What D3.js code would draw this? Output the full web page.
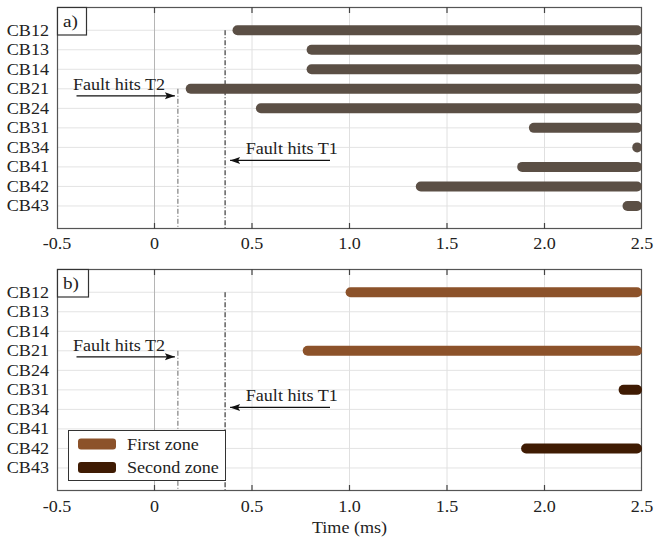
<!DOCTYPE html>
<html>
<head>
<meta charset="utf-8">
<script src="https://cdn.jsdelivr.net/npm/d3@7"></script>
<style>
  body { margin: 0; background: #fff; }
  text { font-family: 'Liberation Serif', 'Times New Roman', Times, serif; }
</style>
</head>
<body>
<div id="chart"></div>
<script>
// breakers on the y axis, top to bottom
const breakers = ['CB12', 'CB13', 'CB14', 'CB21', 'CB24', 'CB31', 'CB34', 'CB41', 'CB42', 'CB43'];
const xTicks = [-0.5, 0, 0.5, 1.0, 1.5, 2.0, 2.5];
const xTickLabels = ['-0.5', '0', '0.5', '1.0', '1.5', '2.0', '2.5'];
const tEnd = 2.5;

// panel a) trip start times (ms)
const tripStartA = [0.40, 0.78, 0.78, 0.16, 0.52, 1.92, 2.45, 1.86, 1.34, 2.40];

// panel b) zone of operation
const firstZone = [{cb: 'CB12', start: 0.98}, {cb: 'CB21', start: 0.76}];
const secondZone = [{cb: 'CB31', start: 2.38}, {cb: 'CB42', start: 1.88}];

// fault instants (ms)
const faultT2 = 0.12;
const faultT1 = 0.362;

const width = 654, height = 544;
const margin = {left: 57, right: 12};
const stretch = 1.13; // text in the original is a bit wider than Times

const svg = d3.select('#chart').append('svg')
  .attr('width', width)
  .attr('height', height);

const x = d3.scaleLinear().domain([-0.5, 2.5]).range([margin.left, width - margin.right]);

const colors = {a: '#5b4f45', first: '#8c522a', second: '#3f1b03'};

const place = (px, py) => `translate(${px},${py}) scale(${stretch},1)`;

function addText(parent, px, py, str, size, anchor) {
  return parent.append('text')
    .attr('transform', place(px, py))
    .attr('text-anchor', anchor || 'start')
    .attr('font-size', size || 16).attr('fill', '#222')
    .text(str);
}

function drawPanel(top, bottom, label, id, labelGap) {
  const y = d3.scaleLinear().domain([-1.19, 10.18]).range([top, bottom]);
  const yPos = cb => y(breakers.indexOf(cb));
  const g = svg.append('g');

  g.append('clipPath').attr('id', 'clip-' + id)
    .append('rect').attr('x', x(-0.5)).attr('y', top).attr('width', x(2.5) - x(-0.5)).attr('height', bottom - top);

  // grid
  g.selectAll('.hgrid').data(breakers).enter().append('line')
    .attr('x1', x(-0.5)).attr('x2', x(2.5))
    .attr('y1', d => yPos(d)).attr('y2', d => yPos(d))
    .attr('stroke', '#e3e3e3').attr('stroke-width', 1);
  g.selectAll('.vgrid').data(xTicks.slice(1, -1)).enter().append('line')
    .attr('x1', d => x(d)).attr('x2', d => x(d))
    .attr('y1', top).attr('y2', bottom)
    .attr('stroke', d => d === 0 ? '#b5b5b5' : '#e0e0e0').attr('stroke-width', 1);

  // fault lines
  g.append('line')
    .attr('x1', x(faultT2)).attr('x2', x(faultT2))
    .attr('y1', yPos('CB21')).attr('y2', bottom)
    .attr('stroke', '#666').attr('stroke-width', 1).attr('stroke-dasharray', '5,2,1,2');
  g.append('line')
    .attr('x1', x(faultT1)).attr('x2', x(faultT1))
    .attr('y1', yPos('CB12')).attr('y2', bottom)
    .attr('stroke', '#111').attr('stroke-width', 1).attr('stroke-dasharray', '5,2,1,2');

  // axis box
  g.append('rect')
    .attr('x', x(-0.5) + 0.5).attr('y', top + 0.5)
    .attr('width', x(2.5) - x(-0.5) - 1).attr('height', bottom - top - 1)
    .attr('fill', 'none').attr('stroke', '#555').attr('stroke-width', 1.2);

  // inward ticks on top and bottom
  g.selectAll('.tickb').data(xTicks.slice(1, -1)).enter().append('line')
    .attr('x1', d => x(d)).attr('x2', d => x(d))
    .attr('y1', bottom).attr('y2', bottom - 6)
    .attr('stroke', '#444').attr('stroke-width', 1.2);
  g.selectAll('.tickt').data(xTicks.slice(1, -1)).enter().append('line')
    .attr('x1', d => x(d)).attr('x2', d => x(d))
    .attr('y1', top).attr('y2', top + 6)
    .attr('stroke', '#444').attr('stroke-width', 1.2);

  // tick labels
  g.selectAll('.xlab').data(xTicks).enter().append('text')
    .attr('transform', d => place(x(d), bottom + labelGap))
    .attr('text-anchor', 'middle')
    .attr('font-size', 16).attr('fill', '#222')
    .text((d, i) => xTickLabels[i]);
  g.selectAll('.ylab').data(breakers).enter().append('text')
    .attr('transform', d => place(x(-0.5) - 8, yPos(d) + 5.5))
    .attr('text-anchor', 'end')
    .attr('font-size', 16).attr('fill', '#222')
    .text(d => d);

  // panel label
  g.append('rect')
    .attr('x', x(-0.5) + 0.5).attr('y', top + 0.5)
    .attr('width', label === 'a)' ? 29 : 31).attr('height', 27.5)
    .attr('fill', '#fff').attr('stroke', '#333').attr('stroke-width', 1.2);
  addText(g, x(-0.5) + 6, top + 20, label, 17);

  return {g, y, yPos};
}

function drawBars(panel, data, color, id) {
  panel.g.append('g').attr('clip-path', `url(#clip-${id})`)
    .selectAll('rect').data(data).enter().append('rect')
    .attr('x', d => x(d.start))
    .attr('y', d => panel.yPos(d.cb) - 5)
    .attr('width', d => x(tEnd) - x(d.start))
    .attr('height', 10)
    .attr('rx', 5)
    .attr('fill', color);
}

function drawArrows(panel, yT2, yT1) {
  const g = panel.g;
  const arrow = (x1, x2, yy) => {
    g.append('line').attr('x1', x1).attr('x2', x2).attr('y1', yy).attr('y2', yy)
      .attr('stroke', '#111').attr('stroke-width', 1.3);
    const dir = x2 > x1 ? 1 : -1;
    g.append('path')
      .attr('d', `M${x2},${yy} L${x2 - dir * 10},${yy - 3.5} L${x2 - dir * 8},${yy} L${x2 - dir * 10},${yy + 3.5} Z`)
      .attr('fill', '#111');
  };
  arrow(x(-0.4), x(faultT2) - 3, yT2);
  addText(g, x(-0.418), yT2 - 6, 'Fault hits T2');
  arrow(x(0.9), x(faultT1) + 5, yT1);
  addText(g, x(0.468), yT1 - 6, 'Fault hits T1');
}

// panel a)
const pa = drawPanel(7, 229, 'a)', 'a', 19.5);
drawBars(pa, breakers.map((cb, i) => ({cb, start: tripStartA[i]})), colors.a, 'a');
drawArrows(pa, pa.yPos('CB21') + 7, pa.yPos('CB34') + 13);

// panel b)
const pb = drawPanel(269, 491, 'b)', 'b', 20.5);
drawBars(pb, firstZone, colors.first, 'b');
drawBars(pb, secondZone, colors.second, 'b');
drawArrows(pb, pb.yPos('CB21') + 6, pb.yPos('CB34') - 2);

// legend
const legend = svg.append('g');
legend.append('rect')
  .attr('x', 68.5).attr('y', 430.5).attr('width', 157).attr('height', 50)
  .attr('fill', '#fff').attr('stroke', '#333').attr('stroke-width', 1);
[{name: 'First zone', color: colors.first}, {name: 'Second zone', color: colors.second}].forEach((d, i) => {
  const yy = 444 + i * 23.5;
  legend.append('rect').attr('x', 78).attr('y', yy - 5.5).attr('width', 38).attr('height', 11)
    .attr('rx', 3).attr('fill', d.color);
  addText(legend, 127, yy + 5.5, d.name);
});

// x axis title
addText(svg, x(1.0), 533, 'Time (ms)', 16, 'middle');
</script>
</body>
</html>
